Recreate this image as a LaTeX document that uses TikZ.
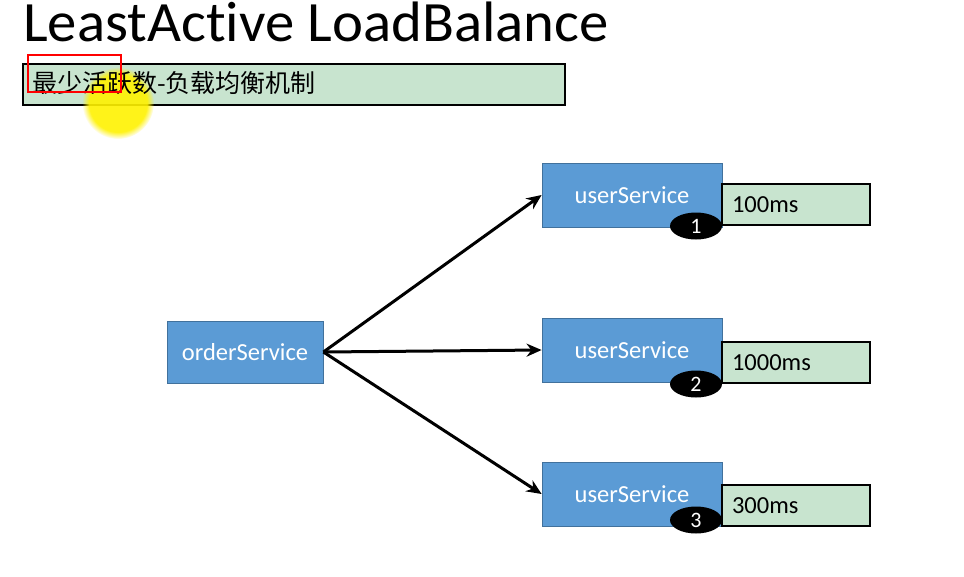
\documentclass[tikz,border=0pt]{standalone}
\usepackage{fontspec}
\setmainfont{Carlito}[Ligatures=NoCommon]
\newfontfamily\cjk{Noto Sans CJK SC}
\usetikzlibrary{arrows.meta,fadings,shapes.geometric}
\definecolor{svcblue}{RGB}{91,155,213}
\definecolor{svcedge}{RGB}{65,113,156}
\definecolor{lgreen}{RGB}{200,228,207}
\begin{document}
\begin{tikzpicture}[x=1pt,y=-1pt,
  svc/.style={draw=svcedge, fill=svcblue, line width=0.8pt, text=white,
    minimum width=180pt, minimum height=64pt, inner sep=0pt,
    font=\fontsize{24.5}{28}\selectfont},
  lat/.style={draw=black, fill=lgreen, line width=2pt, text width=128pt,
    inner xsep=10pt, inner ysep=0pt, minimum height=41pt, align=left,
    anchor=north west, font=\fontsize{24.5}{28}\selectfont},
  num/.style={ellipse, fill=black, text=white, minimum width=52pt,
    minimum height=27pt, inner sep=0pt, font=\fontsize{22}{24}\selectfont},
  arr/.style={line width=3pt, -{Stealth[length=15pt,width=13pt]}}]
\useasboundingbox (0,0) rectangle (964,576);
\fill[white] (0,0) rectangle (964,576);
% title
\node[anchor=base west, inner sep=0pt, xscale=1.03] (title) at (23,41)
  {\fontsize{57}{60}\selectfont LeastActive LoadBalance};
% subtitle box
\node[draw=black, fill=lgreen, line width=2pt, minimum width=542pt,
  minimum height=41pt, anchor=north west, inner sep=0pt] (sub) at (22,63) {};
\fill[yellow, opacity=0.9, path fading=circle with fuzzy edge 20 percent] (118,103) circle (36);
\node[anchor=west, inner sep=0pt] (subtext) at (32,83)
  {\cjk\fontsize{25}{27}\selectfont 最少活跃数-负载均衡机制};
\draw[red, line width=1.5pt] (28,55) rectangle (121,92);
% services
\node[svc, minimum width=156pt, minimum height=62pt] (o) at (245,352) {orderService};
\node[svc] (u1) at (632,195) {userService};
\node[svc] (u2) at (632,350) {userService};
\node[svc] (u3) at (632,494) {userService};
% latency boxes
\node[lat] (t1) at (721,183) {\raisebox{-2pt}{100ms}};
\node[lat] (t2) at (721,341) {\raisebox{-2pt}{1000ms}};
\node[lat] (t3) at (721,484) {\raisebox{-2pt}{300ms}};
% numbers
\node[num] (n1) at (696,226) {1};
\node[num] (n2) at (696,384) {2};
\node[num] (n3) at (696,520) {3};
% arrows
\draw[arr] (o.east) -- (u1.west);
\draw[arr] (o.east) -- (u2.west);
\draw[arr] (o.east) -- (u3.west);
\end{tikzpicture}
\end{document}
